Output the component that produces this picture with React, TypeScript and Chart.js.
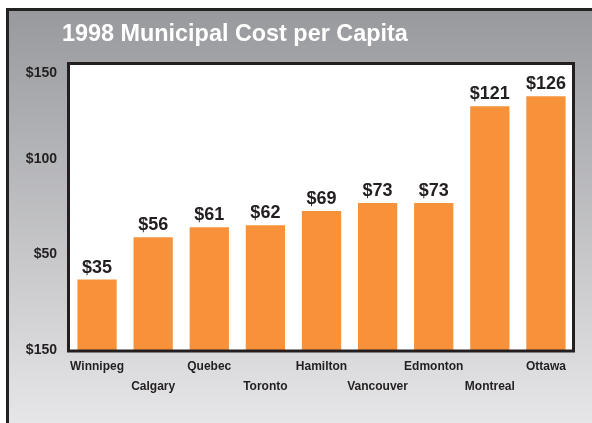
import React, { useEffect, useRef } from "react";
import { Chart, registerables } from "chart.js";

Chart.register(...registerables);

const titleText = "1998 Municipal Cost per Capita";
const cities = ["Winnipeg", "Calgary", "Quebec", "Toronto", "Hamilton", "Vancouver", "Edmonton", "Montreal", "Ottawa"];
const costs = [35, 56, 61, 62, 69, 73, 73, 121, 126];
const yTickValues = [0, 47.5, 95, 137.5];
const yTickLabels = ["$150", "$50", "$100", "$150"];

const FONT = "'Liberation Sans', Arial, Helvetica, sans-serif";

const decorPlugin = {
  id: "decor",
  beforeDraw(chart: any) {
    const { ctx, width, height, chartArea } = chart;
    ctx.save();
    ctx.fillStyle = "#ffffff";
    ctx.fillRect(0, 0, width, height);
    const g = ctx.createLinearGradient(0, 8, 0, height);
    g.addColorStop(0, "#98999d");
    g.addColorStop(1, "#e6e6e8");
    ctx.fillStyle = g;
    ctx.fillRect(6, 8, width - 6, height - 8);
    ctx.strokeStyle = "#222222";
    ctx.lineWidth = 3;
    ctx.beginPath();
    ctx.moveTo(7.5, height);
    ctx.lineTo(7.5, 9.5);
    ctx.lineTo(width, 9.5);
    ctx.stroke();
    // title
    ctx.fillStyle = "#ffffff";
    ctx.font = `bold 23.4px ${FONT}`;
    ctx.textAlign = "left";
    ctx.textBaseline = "middle";
    ctx.fillText(titleText, 62, 35);
    // plot area
    ctx.fillStyle = "#ffffff";
    ctx.fillRect(chartArea.left, chartArea.top, chartArea.right - chartArea.left, chartArea.bottom - chartArea.top);
    ctx.restore();
  },
  afterDatasetsDraw(chart: any) {
    const { ctx, chartArea } = chart;
    ctx.save();
    const meta = chart.getDatasetMeta(0);
    ctx.fillStyle = "#231f20";
    ctx.font = `bold 18px ${FONT}`;
    ctx.textAlign = "center";
    ctx.textBaseline = "alphabetic";
    meta.data.forEach((bar: any, i: number) => {
      ctx.fillText("$" + costs[i], bar.x, bar.y - 7);
    });
    ctx.strokeStyle = "#231f20";
    ctx.lineWidth = 3;
    ctx.strokeRect(chartArea.left - 0.5, chartArea.top - 0.5, chartArea.right - chartArea.left, chartArea.bottom - chartArea.top + 1.5);
    ctx.restore();
  },
};

export default function App() {
  const ref = useRef<HTMLCanvasElement>(null);
  useEffect(() => {
    if (!ref.current) return;
    const labels = cities.map((c, i) => (i % 2 === 0 ? c : ["", c]));
    const chart = new Chart(ref.current, {
      type: "bar",
      data: {
        labels,
        datasets: [
          {
            data: costs,
            backgroundColor: "#f7923a",
            barPercentage: 0.7,
            categoryPercentage: 1,
          },
        ],
      },
      options: {
        animation: false,
        responsive: false,
        maintainAspectRatio: false,
        layout: { padding: { left: 0, right: 18, top: 64, bottom: 0 } },
        plugins: { legend: { display: false }, title: { display: false }, tooltip: { enabled: false } },
        scales: {
          x: {
            grid: { display: false, drawTicks: false },
            border: { display: false },
            ticks: {
              autoSkip: false,
              maxRotation: 0,
              minRotation: 0,
              padding: 7,
              color: "#231f20",
              font: { family: FONT, size: 12, weight: "bold", lineHeight: "20px" } as any,
            },
            afterFit(scale: any) {
              scale.height = 73;
            },
          },
          y: {
            min: 0,
            max: 142,
            grid: { display: false, drawTicks: false },
            border: { display: false },
            afterBuildTicks(scale: any) {
              scale.ticks = yTickValues.map((v) => ({ value: v }));
            },
            afterFit(scale: any) {
              scale.width = 69;
            },
            ticks: {
              padding: 12,
              color: "#231f20",
              font: { family: FONT, size: 14, weight: "bold" } as any,
              callback: (_v: any, i: number) => yTickLabels[i],
            },
          },
        },
      },
      plugins: [decorPlugin],
    });
    return () => chart.destroy();
  }, []);
  return (
    <div style={{ position: "absolute", left: 0, top: 0, width: 592, height: 423 }}>
      <canvas ref={ref} width={592} height={423} style={{ display: "block", width: 592, height: 423 }} />
    </div>
  );
}
